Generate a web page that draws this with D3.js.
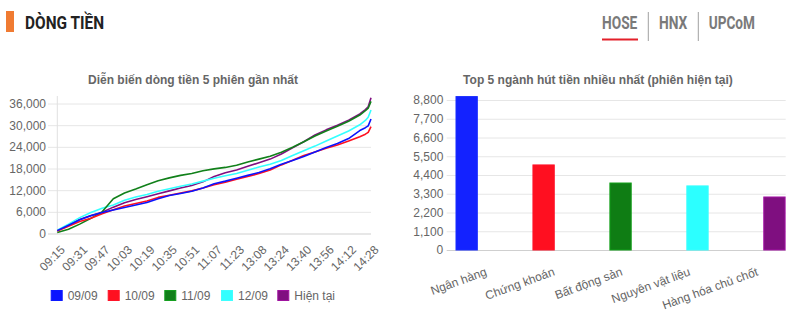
<!DOCTYPE html>
<html><head><meta charset="utf-8">
<script src="https://cdn.jsdelivr.net/npm/d3@7"></script>
<style>body{margin:0;background:#fff}svg{display:block}</style>
</head><body>
<svg id="c" width="793" height="325"></svg>
<script>
// ---------- DATA ----------
const tabs = ["HOSE", "HNX", "UPCoM"];
const tickLabels = ["09:15","09:31","09:47","10:03","10:19","10:35","10:51","11:07","11:23","13:08","13:24","13:40","13:56","14:12","14:28"];
const sampleTimes = ["09:15","09:23","09:31","09:39","09:47","09:55","10:03","10:11","10:19","10:27","10:35","10:43","10:51","10:59","11:07","11:15","11:23","13:00","13:08","13:16","13:24","13:32","13:40","13:48","13:56","14:04","14:12","14:20","14:24","14:26","14:28"];
const s0909 = [800,2300,3800,4900,5800,6500,7200,7900,8600,9600,10500,11100,11700,12600,13800,14500,15300,16100,16900,17900,19200,20200,21300,22600,23800,24900,26300,28500,29300,29800,31700];
const s1009 = [700,2000,3300,4200,5500,6600,7600,8300,9000,10000,10600,11200,11800,12600,13500,14200,15000,15800,16600,17600,19000,20300,21600,22600,23600,24500,25600,26800,27500,28000,29600];
const s1109 = [300,1200,2600,4200,6000,9600,11200,12300,13500,14600,15400,16100,16600,17400,17900,18300,18900,19800,20600,21400,22500,23900,25400,27000,28400,29700,31100,32800,34000,34700,36600];
const s1209 = [900,2600,4400,5800,7000,7900,9200,10100,10800,11700,12400,13100,13700,14500,15300,16000,16600,17500,18400,19200,20200,21600,22900,24200,25600,27000,28400,30100,31300,32200,34200];
const sNow  = [800,2200,3900,5000,5900,7300,8500,9400,10200,11000,11800,12600,13300,14300,15800,16800,17600,18600,19600,20600,22000,23700,25400,27300,28700,30000,31400,33100,34300,35100,37600];
const seriesNames = ["09/09","10/09","11/09","12/09","Hiện tại"];
const seriesColors = ["#0a14ff","#ff1020","#11801a","#33ffff","#800f80"];
const lineYTicks = [0,6000,12000,18000,24000,30000,36000];

const sectors = ["Ngân hàng","Chứng khoán","Bất động sản","Nguyên vật liệu","Hàng hóa chủ chốt"];
const sectorValues = [9000,4990,3930,3760,3110];
const sectorColors = ["#1322ff","#ff0f20","#0f7d14","#2cffff","#7f0f80"];
const barYTicks = [0,1100,2200,3300,4400,5500,6600,7700,8800];

// ---------- DRAW ----------
const svg = d3.select("#c");
const FONT = "'Liberation Sans', Arial, Helvetica, sans-serif";

// header
svg.append("rect").attr("x",6).attr("y",11).attr("width",8).attr("height",21).attr("fill","#f07b32");
svg.append("text").attr("x",25).attr("y",29.3).text("DÒNG TIỀN")
  .attr("font-family","Roboto, sans-serif").attr("font-weight",700).attr("font-size",17.5)
  .attr("fill","#222").attr("textLength",79).attr("lengthAdjust","spacingAndGlyphs");
const tabX = [602, 659, 708.7], tabW = [35.3, 28.3, 46.3];
tabs.forEach((t,i)=>{
  svg.append("text").attr("x",tabX[i]).attr("y",29.3).text(t)
    .attr("font-family","Roboto, sans-serif").attr("font-weight",700).attr("font-size",17.5)
    .attr("fill","#7a7a7a").attr("textLength",tabW[i]).attr("lengthAdjust","spacingAndGlyphs");
});
svg.append("rect").attr("x",602).attr("y",38.5).attr("width",36).attr("height",2).attr("fill","#e3202a");
[648.3, 698.3].forEach(x=>svg.append("line").attr("x1",x).attr("x2",x).attr("y1",12).attr("y2",41)
  .attr("stroke","#a0a0a0").attr("stroke-width",1));

// ---------- LINE CHART ----------
function tradeIdx(t){
  const [h,m] = t.split(":").map(Number);
  const mins = h*60+m;
  return mins < 12*60 ? mins - (9*60+15) : 136 + mins - 13*60;
}
const x = d3.scaleLinear().domain([0,224]).range([57.3,371]);
const y = d3.scaleLinear().domain([0,36000]).range([233.5,103.5]);

svg.append("text").attr("x",193).attr("y",84).attr("text-anchor","middle")
  .attr("font-family",FONT).attr("font-weight",700).attr("font-size",12).attr("fill","#666")
  .text("Diễn biến dòng tiền 5 phiên gần nhất");

const gy = svg.append("g").attr("transform","translate(48,0)")
  .call(d3.axisLeft(y).tickValues(lineYTicks).tickFormat(d3.format(",")).tickSize(-(371-48)).tickPadding(2));
gy.select(".domain").remove();
gy.selectAll(".tick line").attr("stroke", d=>d===0?"#cfcfcf":"#e6e6e6");
gy.selectAll(".tick text").attr("font-family",FONT).attr("font-size",12).attr("fill","#666");
svg.append("line").attr("x1",57.3).attr("x2",57.3).attr("y1",96).attr("y2",233.5).attr("stroke","#e0e0e0");

const gx = svg.append("g").attr("transform","translate(0,233.5)")
  .call(d3.axisBottom(x).tickValues(tickLabels.map(tradeIdx)).tickFormat((d,i)=>tickLabels[i]).tickSize(0));
gx.select(".domain").remove();
gx.selectAll(".tick text").attr("font-family",FONT).attr("font-size",12).attr("fill","#666")
  .attr("text-anchor","end").attr("x",0).attr("y",0).attr("dy","0.35em")
  .attr("transform","translate(5,14) rotate(-45)");

const allSeries = [s0909,s1009,s1109,s1209,sNow];
const line = d3.line().x((d,i)=>x(tradeIdx(sampleTimes[i]))).y(d=>y(d));
for (let k = allSeries.length-1; k>=0; k--){
  svg.append("path").attr("d", line(allSeries[k])).attr("fill","none")
    .attr("stroke",seriesColors[k]).attr("stroke-width",1.6).attr("stroke-linejoin","round");
}

// legend
const legX = [50.7,107.7,164.3,221,277.3];
seriesNames.forEach((n,i)=>{
  svg.append("rect").attr("x",legX[i]+0.5).attr("y",290.5).attr("width",11).attr("height",10)
    .attr("fill",seriesColors[i]).attr("stroke",d3.color(seriesColors[i]).brighter(0.6)).attr("stroke-width",1);
  svg.append("text").attr("x",legX[i]+17).attr("y",300).text(n)
    .attr("font-family",FONT).attr("font-size",12).attr("fill","#666");
});

// ---------- BAR CHART ----------
svg.append("text").attr("x",598).attr("y",84).attr("text-anchor","middle")
  .attr("font-family",FONT).attr("font-weight",700).attr("font-size",12).attr("fill","#666")
  .text("Top 5 ngành hút tiền nhiều nhất (phiên hiện tại)");

const yb = d3.scaleLinear().domain([0,8800]).range([250,100]);
const xl = d3.scaleBand().domain(sectors).range([446.7,785.7]);
const xb = d3.scaleBand().domain(sectors).range([428.3,812.8]).paddingInner(0.723).paddingOuter(0.36);

const gby = svg.append("g").attr("transform","translate(446.7,0)")
  .call(d3.axisLeft(yb).tickValues(barYTicks).tickFormat(d3.format(",")).tickSize(-(785.7-446.7)).tickPadding(3.4));
gby.select(".domain").remove();
gby.selectAll(".tick line").attr("stroke", d=>d===0?"#cfcfcf":"#e6e6e6");
gby.selectAll(".tick text").attr("font-family",FONT).attr("font-size",12).attr("fill","#666");

svg.selectAll("rect.bar").data(sectors).enter().append("rect").attr("class","bar")
  .attr("x",d=>xb(d)).attr("width",xb.bandwidth())
  .attr("y",(d,i)=>yb(sectorValues[i])).attr("height",(d,i)=>250-yb(sectorValues[i]))
  .attr("fill",(d,i)=>sectorColors[i])
  .attr("stroke",(d,i)=>d3.color(sectorColors[i]).brighter(0.7)).attr("stroke-width",1);

svg.selectAll("text.xl").data(sectors).enter().append("text").attr("class","xl")
  .attr("text-anchor","end")
  .attr("transform",d=>`translate(${xl(d)+xl.bandwidth()/2+7},275) rotate(-20)`)
  .attr("font-family",FONT).attr("font-size",12).attr("fill","#666").text(d=>d);
</script>
</body></html>
